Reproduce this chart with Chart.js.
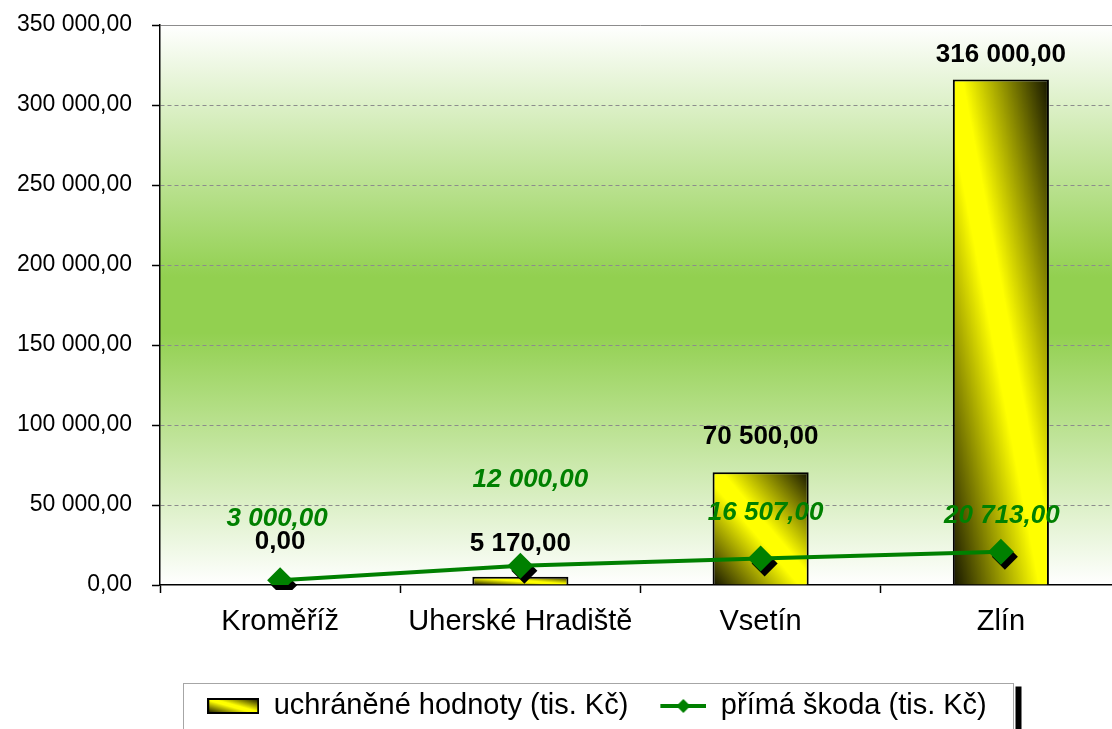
<!DOCTYPE html>
<html>
<head>
<meta charset="utf-8">
<script src="https://cdn.jsdelivr.net/npm/chart.js@4"></script>
<style>
    html, body { margin: 0; padding: 0; background: #fff; overflow: hidden; }
    #chart { position: absolute; left: 0; top: 0; }
</style>
</head>
<body>
<canvas id="chart" width="1134" height="745"></canvas>
<script>
const categories = ["Kroměříž", "Uherské Hradiště", "Vsetín", "Zlín"];
const savedValues = [0, 5170, 70500, 316000];
const damageValues = [3000, 12000, 16507, 20713];
const yTickValues = [0, 50000, 100000, 150000, 200000, 250000, 300000, 350000];
const seriesNames = ["uchráněné hodnoty (tis. Kč)", "přímá škoda (tis. Kč)"];

const FONT = "'Liberation Sans', Arial, sans-serif";
const GREEN = "#008000";

const fmt = (v) => {
    const [i, d] = v.toFixed(2).split(".");
    return i.replace(/\B(?=(\d{3})+(?!\d))/g, " ") + "," + d;
};

// diagonal yellow/black fill, like the office "from corner" gradient
const barGradient = (ctx, left, top, w, h) => {
    const cx = left + w / 2, cy = top + h / 2;
    const k = (w * h) / (w * w + h * h);
    const g = ctx.createLinearGradient(cx - h * k, cy + w * k, cx + h * k, cy - w * k);
    g.addColorStop(0, "#141400");
    g.addColorStop(0.45, "#ffff00");
    g.addColorStop(0.55, "#ffff00");
    g.addColorStop(1, "#141400");
    return g;
};

// legend symbols
const barIcon = document.createElement("canvas");
barIcon.width = 52; barIcon.height = 16;
{
    const c = barIcon.getContext("2d");
    c.fillStyle = barGradient(c, 1, 1, 50, 14);
    c.fillRect(1, 1, 50, 14);
    c.strokeStyle = "#000"; c.lineWidth = 2;
    c.strokeRect(1, 1, 50, 14);
}
const lineIcon = document.createElement("canvas");
lineIcon.width = 52; lineIcon.height = 16;
{
    const c = lineIcon.getContext("2d");
    c.strokeStyle = GREEN; c.lineWidth = 4;
    c.beginPath(); c.moveTo(6, 8); c.lineTo(52, 8); c.stroke();
    c.fillStyle = GREEN;
    c.beginPath(); c.moveTo(29, 1); c.lineTo(36, 8); c.lineTo(29, 15); c.lineTo(22, 8); c.closePath(); c.fill();
}

const plotBackground = {
    id: "plotBackground",
    beforeDraw(chart) {
        const { ctx, chartArea: a } = chart;
        const g = ctx.createLinearGradient(0, a.top, 0, a.bottom);
        g.addColorStop(0, "#ffffff");
        g.addColorStop(0.45, "#92d050");
        g.addColorStop(0.55, "#92d050");
        g.addColorStop(1, "#ffffff");
        ctx.save();
        ctx.fillStyle = g;
        ctx.fillRect(a.left, a.top, a.right - a.left, a.bottom - a.top);
        ctx.restore();
    }
};

const shadowShift = {
    id: "shadowShift",
    beforeDatasetDraw(chart, args) {
        if (args.index === 2) { chart.ctx.save(); chart.ctx.translate(4, 5); }
    },
    afterDatasetDraw(chart, args) {
        if (args.index === 2) chart.ctx.restore();
    }
};

const valueLabels = {
    id: "valueLabels",
    afterDatasetsDraw(chart, args, opts) {
        const ctx = chart.ctx;
        ctx.save();
        ctx.textAlign = "center";
        ctx.textBaseline = "middle";
        chart.getDatasetMeta(0).data.forEach((el, i) => {
            ctx.font = "bold 26px " + FONT;
            ctx.fillStyle = "#000";
            ctx.fillText(fmt(savedValues[i]), el.x, el.y - opts.barOffsets[i]);
        });
        chart.getDatasetMeta(1).data.forEach((el, i) => {
            ctx.font = "italic bold 26px " + FONT;
            ctx.fillStyle = GREEN;
            ctx.fillText(fmt(damageValues[i]), el.x + opts.lineShiftX[i], el.y - opts.lineOffsets[i]);
        });
        ctx.restore();
    }
};

const legendFrame = {
    id: "legendFrame",
    afterLayout(chart) {
        const lg = chart.legend;
        const shift = 597 - (lg.left + lg.right) / 2;
        lg.left += shift;
        lg.right += shift;
    },
    afterDraw(chart) {
        const lg = chart.legend;
        const pad = lg.options.labels.padding;
        const lw = lg.lineWidths[0];
        const start = (lg.left + lg.right + pad - lw) / 2;
        const end = start + lw - pad;
        const ctx = chart.ctx;
        const x0 = Math.round(start - 24) + 0.5, x1 = Math.round(end + 26) + 0.5;
        const top = 683.5;
        ctx.save();
        ctx.fillStyle = "#000";
        ctx.fillRect(x1 + 2, top + 3, 6, 100);
        ctx.strokeStyle = "#a6a6a6";
        ctx.lineWidth = 1;
        ctx.strokeRect(x0, top, x1 - x0, 100);
        ctx.restore();
    }
};

new Chart(document.getElementById("chart"), {
    type: "bar",
    data: {
        labels: categories,
        datasets: [
            {
                label: seriesNames[0],
                data: savedValues,
                order: 3,
                backgroundColor: (c) => {
                    const ch = c.chart;
                    const xs = ch.scales.x, ys = ch.scales.y;
                    if (!xs || !ys || c.dataIndex === undefined) return "#ffff00";
                    const w = xs.width / categories.length * 0.4;
                    const x = xs.getPixelForValue(c.dataIndex);
                    const top = ys.getPixelForValue(savedValues[c.dataIndex]);
                    const h = Math.max(ys.getPixelForValue(0) - top, 2);
                    return barGradient(ch.ctx, x - w / 2, top, w, h);
                },
                borderColor: "#000",
                borderWidth: 2,
                barPercentage: 0.8,
                categoryPercentage: 0.5
            },
            {
                type: "line",
                label: seriesNames[1],
                data: damageValues,
                order: 1,
                borderColor: GREEN,
                backgroundColor: GREEN,
                borderWidth: 4,
                tension: 0,
                pointStyle: "rectRot",
                pointRadius: 13,
                pointHoverRadius: 13,
                pointBorderWidth: 0
            },
            {
                type: "line",
                label: "shadow",
                data: damageValues,
                order: 2,
                showLine: false,
                borderColor: "#000",
                backgroundColor: "#000",
                pointStyle: "rectRot",
                pointRadius: 13,
                pointBorderWidth: 0
            }
        ]
    },
    options: {
        responsive: false,
        animation: false,
        layout: { padding: { top: 25, left: 0, right: 2, bottom: 14.5 } },
        scales: {
            x: {
                offset: true,
                afterFit: (s) => { s.height = 80.5; s.paddingLeft = 0; s.paddingRight = 0; },
                grid: { display: true, offset: true, drawOnChartArea: false, tickLength: 8, tickColor: "#000", tickWidth: 1.5 },
                border: { color: "#000", width: 1.5 },
                ticks: { color: "#000", font: { family: FONT, size: 29 }, padding: 12 }
            },
            y: {
                min: 0,
                max: 350000,
                afterFit: (s) => { s.width = 160; s.paddingTop = 0; s.paddingBottom = 0; },
                afterBuildTicks: (s) => { s.ticks = yTickValues.map((v) => ({ value: v })); },
                grid: {
                    color: (c) => (c.tick && c.tick.value === 0 ? "rgba(0,0,0,0)" : "#8c8c8c"),
                    lineWidth: 1,
                    tickLength: 8,
                    tickColor: "#000",
                    tickWidth: 1.5
                },
                border: {
                    color: "#000",
                    width: 1.5,
                    dash: (c) => (c.tick && c.tick.value === 350000 ? [] : [4, 3])
                },
                ticks: { color: "#000", font: { family: FONT, size: 23 }, padding: 20, callback: (v) => fmt(v) }
            }
        },
        plugins: {
            tooltip: { enabled: false },
            legend: {
                position: "bottom",
                labels: {
                    usePointStyle: true,
                    pointStyleWidth: 52,
                    padding: 26,
                    color: "#000",
                    font: { family: FONT, size: 29 },
                    generateLabels: () => [
                        { text: seriesNames[0], pointStyle: barIcon, datasetIndex: 0, lineWidth: 0, fontColor: "#000" },
                        { text: seriesNames[1], pointStyle: lineIcon, datasetIndex: 1, lineWidth: 0, fontColor: "#000" }
                    ]
                }
            },
            valueLabels: {
                barOffsets: [43, 33, 35, 25],
                lineOffsets: [61, 86, 46, 36],
                lineShiftX: [-3, 10, 5, 1]
            }
        }
    },
    plugins: [plotBackground, shadowShift, valueLabels, legendFrame]
});
</script>
</body>
</html>
